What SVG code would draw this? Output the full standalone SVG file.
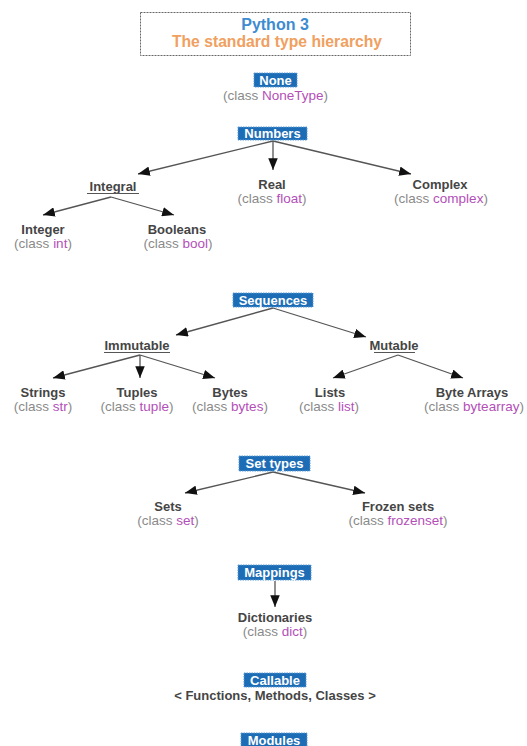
<svg xmlns="http://www.w3.org/2000/svg" width="527" height="746" viewBox="0 0 527 746">
<defs>
<marker id="ah" viewBox="0 0 10 8" refX="10" refY="4" markerWidth="12" markerHeight="9.5" orient="auto" markerUnits="userSpaceOnUse"><path d="M0,0 L10,4 L0,8 z" fill="#111"/></marker>
<style>
text{font-family:"Liberation Sans",Arial,sans-serif;text-anchor:middle}
.bx{fill:#1d6db6;stroke:#5b9ad6;stroke-width:1;stroke-dasharray:1.5,1}
.bt{fill:#fff;font-weight:bold;font-size:13px}
.nm{fill:#454545;font-weight:bold;font-size:13px}
.cl{fill:#8a8a8a;font-size:13.5px}
.ty{fill:#b34fb8}
.ul{stroke:#555;stroke-width:1}
.cn line{stroke:#555;stroke-width:1.3;marker-end:url(#ah)}
</style>
</defs>
<rect width="527" height="746" fill="#fff"/>
<g id="title">
<rect x="140.5" y="12.5" width="270" height="43" fill="#fff" stroke="#666" stroke-width="1" stroke-dasharray="2,1"/>
<text x="275" y="30" font-size="16" font-weight="bold" fill="#3d8bd0">Python 3</text>
<text x="277" y="47" font-size="15.7" font-weight="bold" fill="#f0a060">The standard type hierarchy</text>
</g>
<g class="cn" id="connectors">
<line x1="273" y1="141" x2="138" y2="174"/>
<line x1="273" y1="141" x2="273" y2="170"/>
<line x1="273" y1="141" x2="411" y2="174"/>
<line x1="111" y1="197" x2="43" y2="215"/>
<line x1="111" y1="197" x2="174" y2="215"/>
<line x1="273" y1="308" x2="176" y2="335"/>
<line x1="273" y1="308" x2="366" y2="337"/>
<line x1="140" y1="355" x2="53" y2="378"/>
<line x1="140" y1="355" x2="140" y2="378"/>
<line x1="140" y1="355" x2="215" y2="378"/>
<line x1="398" y1="355" x2="333" y2="378"/>
<line x1="398" y1="355" x2="463" y2="378"/>
<line x1="273" y1="472" x2="185" y2="493"/>
<line x1="273" y1="472" x2="365" y2="493"/>
<line x1="275" y1="581" x2="275" y2="607"/>
</g>
<g id="none"><rect class="bx" x="254" y="73" width="43" height="14"/><text class="bt" x="275.5" y="84.5">None</text><text class="cl" x="275.5" y="100">(class <tspan class="ty">NoneType</tspan>)</text></g>
<g id="numbers"><rect class="bx" x="238" y="127" width="69" height="13"/><text class="bt" x="272.5" y="138">Numbers</text></g>
<g id="integral"><text class="nm" x="113" y="191">Integral</text><line class="ul" x1="87" y1="193.5" x2="139" y2="193.5"/></g>
<g id="real"><text class="nm" x="272" y="189">Real</text><text class="cl" x="272" y="203">(class <tspan class="ty">float</tspan>)</text></g>
<g id="complex"><text class="nm" x="440" y="189">Complex</text><text class="cl" x="441" y="203">(class <tspan class="ty">complex</tspan>)</text></g>
<g id="integer"><text class="nm" x="43" y="234">Integer</text><text class="cl" x="43" y="248">(class <tspan class="ty">int</tspan>)</text></g>
<g id="booleans"><text class="nm" x="177" y="234">Booleans</text><text class="cl" x="178" y="248">(class <tspan class="ty">bool</tspan>)</text></g>
<g id="sequences"><rect class="bx" x="233" y="293" width="80" height="14"/><text class="bt" x="273" y="304.5">Sequences</text></g>
<g id="immutable"><text class="nm" x="137" y="350">Immutable</text><line class="ul" x1="104" y1="352.5" x2="170" y2="352.5"/></g>
<g id="mutable"><text class="nm" x="394" y="350">Mutable</text><line class="ul" x1="374" y1="352.5" x2="415" y2="352.5"/></g>
<g id="strings"><text class="nm" x="43" y="397">Strings</text><text class="cl" x="43" y="411">(class <tspan class="ty">str</tspan>)</text></g>
<g id="tuples"><text class="nm" x="137" y="397">Tuples</text><text class="cl" x="137" y="411">(class <tspan class="ty">tuple</tspan>)</text></g>
<g id="bytes"><text class="nm" x="230" y="397">Bytes</text><text class="cl" x="230" y="411">(class <tspan class="ty">bytes</tspan>)</text></g>
<g id="lists"><text class="nm" x="330" y="397">Lists</text><text class="cl" x="329" y="411">(class <tspan class="ty">list</tspan>)</text></g>
<g id="bytearrays"><text class="nm" x="472" y="397">Byte Arrays</text><text class="cl" x="474" y="411">(class <tspan class="ty">bytearray</tspan>)</text></g>
<g id="settypes"><rect class="bx" x="239" y="456" width="71" height="15"/><text class="bt" x="274.5" y="467.5">Set types</text></g>
<g id="sets"><text class="nm" x="168" y="511">Sets</text><text class="cl" x="168" y="525">(class <tspan class="ty">set</tspan>)</text></g>
<g id="frozensets"><text class="nm" x="398" y="511">Frozen sets</text><text class="cl" x="398" y="525">(class <tspan class="ty">frozenset</tspan>)</text></g>
<g id="mappings"><rect class="bx" x="238" y="565" width="73" height="15"/><text class="bt" x="274.5" y="576.5">Mappings</text></g>
<g id="dictionaries"><text class="nm" x="275" y="622">Dictionaries</text><text class="cl" x="275" y="636">(class <tspan class="ty">dict</tspan>)</text></g>
<g id="callable"><rect class="bx" x="244" y="673" width="62" height="14"/><text class="bt" x="275" y="684.5">Callable</text><text class="nm" x="275" y="700" font-size="14">&lt; Functions, Methods, Classes &gt;</text></g>
<g id="modules"><rect class="bx" x="241" y="733" width="66" height="16"/><text class="bt" x="274" y="744.5">Modules</text></g>
</svg>
